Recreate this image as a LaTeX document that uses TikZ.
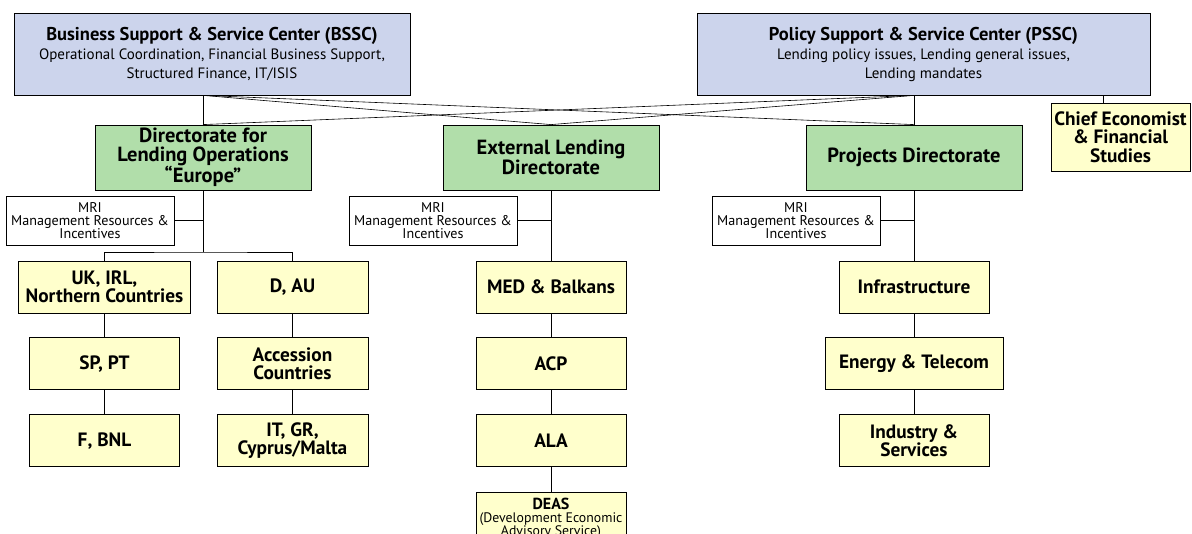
\documentclass[tikz,border=0pt]{standalone}
\usepackage{fontspec}
\setmainfont{PT Sans}
\usetikzlibrary{positioning}
\definecolor{serviceblue}{RGB}{204,212,236}
\definecolor{dirgreen}{RGB}{177,222,170}
\definecolor{unityellow}{RGB}{255,255,204}

\begin{document}
\begin{tikzpicture}[
      x=1pt, y=-1pt,
      node distance = 24pt,
      every node/.style = {draw, align=center, inner sep=0pt, line width=0.8pt},
      service/.style = {fill=serviceblue, minimum height=82pt, font=\fontsize{15}{19}\selectfont},
      directorate/.style = {fill=dirgreen, minimum width=216pt, minimum height=65pt, font=\fontsize{20.5}{18.5}\selectfont\bfseries},
      unitbox/.style = {fill=unityellow, minimum width=150pt, minimum height=52pt, font=\fontsize{19.3}{18.5}\selectfont\bfseries},
      mribox/.style = {fill=white, minimum width=168pt, minimum height=49pt, font=\fontsize{14.1}{13.3}\selectfont},
      link/.style = {draw, line width=0.6pt}
    ]
    \clip (0,0) rectangle (1192,534);

    % service centers
    \node[service, minimum width=396pt] (bssc) at (212,54)
      {{\fontsize{18.5}{19}\selectfont\bfseries Business Support \& Service Center (BSSC)}\\
       Operational Coordination, Financial Business Support,\\Structured Finance, IT/ISIS};
    \node[service, minimum width=453pt] (pssc) at (923.5,54)
      {{\fontsize{18.5}{19}\selectfont\bfseries Policy Support \& Service Center (PSSC)}\\
       Lending policy issues, Lending general issues,\\Lending mandates};
    \node[unitbox, minimum width=139pt, minimum height=68pt] (chief) at (1120.5,137)
      {Chief Economist\\\& Financial\\Studies};

    % directorates
    \node[directorate] (europe) at (203,157.5) {Directorate for\\Lending Operations\\“Europe”};
    \node[directorate] (extl) at (551,157.5) {External Lending\\Directorate};
    \node[directorate] (proj) at (914,157.5) {Projects Directorate};

    \node[mribox] (mrieu) at (90,220.5) {MRI\\Management Resources \&\\Incentives};
    \node[mribox] (mriex) at (433,220.5) {MRI\\Management Resources \&\\Incentives};
    \node[mribox] (mripr) at (796,220.5) {MRI\\Management Resources \&\\Incentives};

    % Europe
    \node[unitbox, minimum width=172pt] (uk) at (104.5,287) {UK, IRL,\\Northern Countries};
    \node[unitbox, below=of uk] (sppt) {SP, PT};
    \node[unitbox, below=of sppt] (fbnl) {F, BNL};
    \node[unitbox, minimum width=151pt] (dau) at (292.5,287) {D, AU};
    \node[unitbox, minimum width=151pt, below=of dau] (acc) {Accession\\Countries};
    \node[unitbox, minimum width=151pt, below=of acc] (itgr) {IT, GR,\\Cyprus/Malta};

    % External
    \node[unitbox] (med) at (551,287) {MED \& Balkans};
    \node[unitbox, below=of med] (acp) {ACP};
    \node[unitbox, below=of acp] (ala) {ALA};
    \node[unitbox, below=of ala, font=\fontsize{13.8}{13}\selectfont, yshift=-1pt] (deas)
      {{\fontsize{16}{13}\selectfont\bfseries DEAS}\\(Development Economic\\Advisory Service)};

    % Projects
    \node[unitbox] (infra) at (914,287) {Infrastructure};
    \node[unitbox, minimum width=178pt, below=of infra] (energy) {Energy \& Telecom};
    \node[unitbox, below=of energy] (indus) {Industry \&\\Services};

    % connectors
    \coordinate (chieftap) at (1103,0);
    \coordinate (efork) at (203,252);
    \path[link] (bssc.south -| europe.north) -- (europe.north);
    \path[link] (bssc.south -| europe.north) -- (extl.north);
    \path[link] (bssc.south -| europe.north) -- (proj.north);
    \path[link] (pssc.south -| proj.north) -- (proj.north);
    \path[link] (pssc.south -| proj.north) -- (extl.north);
    \path[link] (pssc.south -| proj.north) -- (europe.north);
    \path[link] (pssc.south -| chieftap) -- (chief.north -| chieftap);

    \path[link] (europe.south) -- (efork);
    \path[link] (uk.north) |- (efork) -| (dau.north);
    \path[link] (mrieu.east) -- (mrieu.east -| europe.south);
    \path[link] (uk) -- (sppt) -- (fbnl);
    \path[link] (dau) -- (acc) -- (itgr);

    \path[link] (extl.south) -- (med.north);
    \path[link] (mriex.east) -- (mriex.east -| extl.south);
    \path[link] (med) -- (acp) -- (ala) -- (deas);

    \path[link] (proj.south) -- (infra.north);
    \path[link] (mripr.east) -- (mripr.east -| proj.south);
    \path[link] (infra) -- (energy) -- (indus);
  \end{tikzpicture}
\end{document}
